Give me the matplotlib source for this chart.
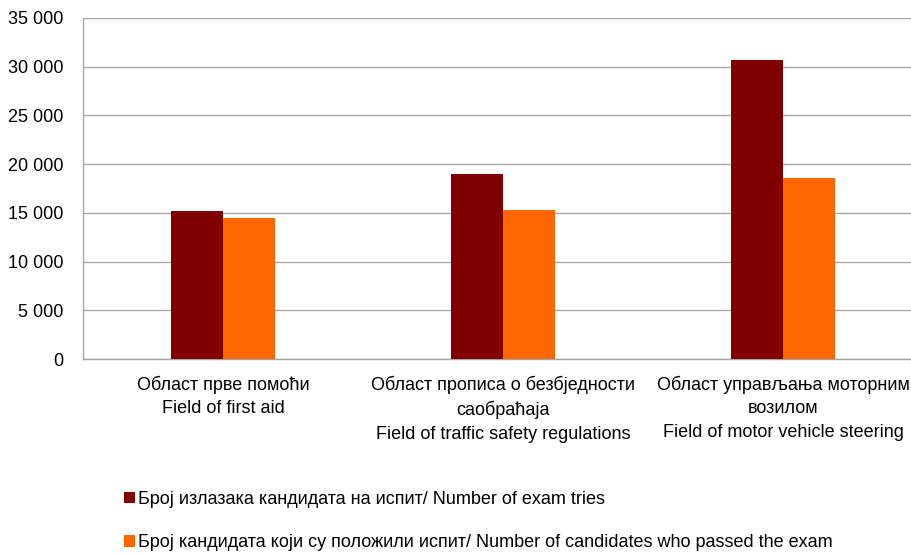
import matplotlib.pyplot as plt
from matplotlib.ticker import FuncFormatter, MultipleLocator

categories = [
    "Област прве помоћи\nField of first aid",
    "Област прописа о безбједности\nсаобраћаја\nField of traffic safety regulations",
    "Област управљања моторним\nвозилом\nField of motor vehicle steering",
]
exam_tries = [15200, 19000, 30700]
passed = [14500, 15300, 18600]
series_labels = [
    "Број излазака кандидата на испит/ Number of exam tries",
    "Број кандидата који су положили испит/ Number of candidates who passed the exam",
]

plt.rcParams['font.family'] = ['Liberation Sans Narrow', 'Liberation Sans', 'DejaVu Sans']
plt.rcParams['font.size'] = 13

fig = plt.figure(figsize=(9.12, 5.54), dpi=100)
ax = fig.add_axes([83 / 912, 1 - 359 / 554, 840 / 912, 341 / 554])

x = list(range(len(categories)))
w = 0.186
b1 = ax.bar([i - w / 2 for i in x], exam_tries, width=w, color='#800000', zorder=3)
b2 = ax.bar([i + w / 2 for i in x], passed, width=w, color='#FF6600', zorder=3)

ax.set_xlim(-0.5, len(categories) - 0.5)
ax.set_ylim(0, 35000)
ax.yaxis.set_major_locator(MultipleLocator(5000))
ax.yaxis.set_major_formatter(FuncFormatter(lambda v, p: f"{int(v):,}".replace(",", " ")))
ax.grid(axis='y', color='#A6A6A6', linewidth=1, zorder=0)
ax.set_axisbelow(True)

ax.set_xticks(x)
ax.set_xticklabels(categories, linespacing=1.5)
ax.tick_params(axis='x', length=0, pad=12)
ax.tick_params(axis='y', length=0, pad=14)

for s in ['top', 'right']:
    ax.spines[s].set_visible(False)
for s in ['left', 'bottom']:
    ax.spines[s].set_color('#A6A6A6')
    ax.spines[s].set_linewidth(1)

fig.legend([b1, b2], series_labels, loc='upper left',
           bbox_to_anchor=(124 / 912, 1 - 491 / 554), frameon=False,
           handlelength=0.6, handleheight=0.6, handletextpad=0.2,
           labelspacing=1.45, borderpad=0, borderaxespad=0)

fig.savefig('out.png', dpi=100)
